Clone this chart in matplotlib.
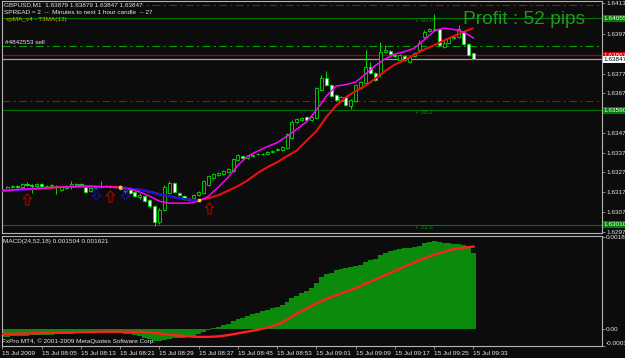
import matplotlib
matplotlib.use("Agg")
import matplotlib.pyplot as plt
import matplotlib.transforms as mtransforms
import numpy as np
from matplotlib.path import Path

W, H = 625, 358

# GBPUSD M1, one bar per minute, bar 0 = 15 Jul 2009 07:57
opens = [1.63186, 1.63191, 1.63201, 1.63206, 1.63201, 1.63216, 1.63211, 1.63206, 1.63216, 1.63206,
         1.63206, 1.63206, 1.63186, 1.63196, 1.63201, 1.63211, 1.63216, 1.63201, 1.63181, 1.63196,
         1.63201, 1.63206, 1.63206, 1.63201, 1.63206, 1.63181, 1.63186, 1.63176, 1.63150, 1.63155,
         1.63135, 1.63105, 1.63024, 1.63084, 1.63170, 1.63221, 1.63170, 1.63155, 1.63140, 1.63145,
         1.63160, 1.63170, 1.63211, 1.63246, 1.63262, 1.63267, 1.63277, 1.63282, 1.63337, 1.63358,
         1.63348, 1.63358, 1.63368, 1.63368, 1.63368, 1.63378, 1.63388, 1.63388, 1.63398, 1.63449,
         1.63530, 1.63540, 1.63555, 1.63540, 1.63550, 1.63692, 1.63752, 1.63717, 1.63666, 1.63636,
         1.63656, 1.63611, 1.63636, 1.63702, 1.63727, 1.63808, 1.63778, 1.63773, 1.63884, 1.63889,
         1.63869, 1.63843, 1.63864, 1.63833, 1.63864, 1.63894, 1.63958, 1.63990, 1.63995, 1.64000,
         1.63909, 1.63929, 1.63955, 1.63960, 1.63987, 1.63924, 1.63879]
highs = [1.63196, 1.63206, 1.63211, 1.63211, 1.63221, 1.63226, 1.63216, 1.63221, 1.63221, 1.63211,
         1.63216, 1.63211, 1.63206, 1.63211, 1.63231, 1.63221, 1.63221, 1.63206, 1.63201, 1.63206,
         1.63231, 1.63211, 1.63211, 1.63211, 1.63211, 1.63196, 1.63191, 1.63181, 1.63170, 1.63160,
         1.63140, 1.63110, 1.63095, 1.63211, 1.63231, 1.63226, 1.63176, 1.63160, 1.63145, 1.63165,
         1.63181, 1.63236, 1.63262, 1.63272, 1.63277, 1.63287, 1.63297, 1.63347, 1.63368, 1.63363,
         1.63363, 1.63368, 1.63373, 1.63373, 1.63383, 1.63388, 1.63398, 1.63408, 1.63474, 1.63540,
         1.63550, 1.63555, 1.63560, 1.63560, 1.63707, 1.63767, 1.63788, 1.63722, 1.63671, 1.63661,
         1.63661, 1.63646, 1.63722, 1.63737, 1.63894, 1.63835, 1.63783, 1.63934, 1.63919, 1.63894,
         1.63874, 1.63874, 1.63869, 1.63864, 1.63884, 1.63945, 1.63995, 1.64005, 1.64076, 1.64005,
         1.63939, 1.63960, 1.63965, 1.64021, 1.63995, 1.63929, 1.63879]
lows = [1.63176, 1.63186, 1.63196, 1.63196, 1.63196, 1.63206, 1.63170, 1.63201, 1.63201, 1.63201,
        1.63201, 1.63165, 1.63181, 1.63191, 1.63191, 1.63206, 1.63206, 1.63170, 1.63176, 1.63191,
        1.63196, 1.63201, 1.63196, 1.63196, 1.63186, 1.63170, 1.63165, 1.63150, 1.63140, 1.63125,
        1.63095, 1.63004, 1.63014, 1.63079, 1.63165, 1.63170, 1.63155, 1.63135, 1.63130, 1.63140,
        1.63155, 1.63165, 1.63206, 1.63241, 1.63257, 1.63262, 1.63272, 1.63277, 1.63332, 1.63343,
        1.63343, 1.63353, 1.63363, 1.63363, 1.63363, 1.63373, 1.63383, 1.63383, 1.63393, 1.63444,
        1.63525, 1.63535, 1.63535, 1.63535, 1.63545, 1.63687, 1.63712, 1.63656, 1.63636, 1.63631,
        1.63611, 1.63596, 1.63631, 1.63697, 1.63722, 1.63773, 1.63737, 1.63757, 1.63879, 1.63869,
        1.63859, 1.63838, 1.63838, 1.63828, 1.63859, 1.63889, 1.63953, 1.63985, 1.63990, 1.63914,
        1.63904, 1.63924, 1.63950, 1.63955, 1.63919, 1.63864, 1.63847]
closes = [1.63191, 1.63201, 1.63206, 1.63201, 1.63216, 1.63211, 1.63206, 1.63216, 1.63206, 1.63206,
          1.63211, 1.63201, 1.63201, 1.63206, 1.63216, 1.63216, 1.63211, 1.63176, 1.63196, 1.63201,
          1.63206, 1.63206, 1.63201, 1.63206, 1.63191, 1.63191, 1.63170, 1.63155, 1.63160, 1.63130,
          1.63105, 1.63024, 1.63084, 1.63201, 1.63221, 1.63176, 1.63160, 1.63140, 1.63135, 1.63160,
          1.63176, 1.63231, 1.63257, 1.63267, 1.63272, 1.63282, 1.63292, 1.63342, 1.63363, 1.63348,
          1.63358, 1.63363, 1.63368, 1.63368, 1.63378, 1.63383, 1.63393, 1.63403, 1.63469, 1.63530,
          1.63545, 1.63550, 1.63540, 1.63555, 1.63702, 1.63752, 1.63717, 1.63661, 1.63641, 1.63656,
          1.63616, 1.63641, 1.63717, 1.63732, 1.63808, 1.63778, 1.63742, 1.63884, 1.63894, 1.63874,
          1.63864, 1.63869, 1.63843, 1.63859, 1.63879, 1.63929, 1.63987, 1.64000, 1.64000, 1.63919,
          1.63929, 1.63955, 1.63960, 1.63998, 1.63924, 1.63869, 1.63847]

# indicator lines read every second bar
line_bars = list(range(0, 97, 2))
t3ma_fast = [1.63181, 1.63186, 1.63191, 1.63193, 1.63196, 1.63198, 1.63201, 1.63203, 1.63206, 1.63206,
             1.63203, 1.63201, 1.63198, 1.63191, 1.63176, 1.63155, 1.63130, 1.63120, 1.63120, 1.63120,
             1.63130, 1.63155, 1.63201, 1.63251, 1.63312, 1.63358, 1.63383, 1.63406, 1.63426, 1.63459,
             1.63494, 1.63532, 1.63590, 1.63661, 1.63712, 1.63719, 1.63732, 1.63773, 1.63816, 1.63849,
             1.63874, 1.63886, 1.63904, 1.63947, 1.63990, 1.64005, 1.63998, 1.63985, 1.63955]
xpma_slow = [1.63181, 1.63186, 1.63188, 1.63191, 1.63196, 1.63198, 1.63201, 1.63202, 1.63203, 1.63203,
             1.63203, 1.63203, 1.63201, 1.63193, 1.63188, 1.63178, 1.63165, 1.63155, 1.63145, 1.63138,
             1.63135, 1.63145, 1.63160, 1.63183, 1.63206, 1.63236, 1.63272, 1.63302, 1.63327, 1.63358,
             1.63386, 1.63436, 1.63484, 1.63555, 1.63613, 1.63656, 1.63687, 1.63714, 1.63750, 1.63788,
             1.63821, 1.63843, 1.63871, 1.63897, 1.63919, 1.63942, 1.63965, 1.63985, 1.64005]
slow_down_spans = [(0, 6), (24, 40)]  # bar ranges where the slow line is drawn blue
slow_turn_bars = [24, 40]

arrow_up_bars = [5, 22, 42]
arrow_up_prices = [1.63140, 1.63155, 1.63095]
arrow_down_bars = [19, 25]
arrow_down_prices = [1.63168, 1.63165]

# order / quote / fibo levels
bid = 1.63847
ask = 1.63867
order_open = 1.63914
stop_loss = 1.64122
take_profit = 1.63636
fibo_levels = [1.64055, 1.63590, 1.63010]
fibo_labels = ["+ 50.0", "+ 38.2", "+ 23.6"]

# scale labels that are not hidden under the price boxes
price_ticks = [1.62975, 1.63075, 1.63175, 1.63275, 1.63375, 1.63475,
               1.63675, 1.63775, 1.63975, 1.64130]

# MACD(24,52,18), every bar
macd_hist = [-0.00016, -0.00016, -0.00015, -0.00015, -0.00014, -0.00014, -0.00013, -0.00013, -0.00013, -0.00012,
             -0.00012, -0.00011, -0.00011, -0.00010, -0.00010, -0.00009, -0.00008, -0.00008, -0.00008, -0.00007,
             -0.00007, -0.00007, -0.00007, -0.00008, -0.00009, -0.00010, -0.00011, -0.00013, -0.00015, -0.00018,
             -0.00021, -0.00024, -0.00025, -0.00022, -0.00020, -0.00019, -0.00018, -0.00018, -0.00016, -0.00014,
             -0.00011, -0.00007, -0.00003, 0.00001, 0.00004, 0.00007, 0.00010, 0.00015, 0.00019, 0.00022,
             0.00026, 0.00029, 0.00032, 0.00035, 0.00038, 0.00040, 0.00043, 0.00046, 0.00052, 0.00060,
             0.00065, 0.00070, 0.00075, 0.00080, 0.00090, 0.00103, 0.00108, 0.00110, 0.00115, 0.00118,
             0.00120, 0.00121, 0.00123, 0.00125, 0.00132, 0.00135, 0.00137, 0.00145, 0.00150, 0.00153,
             0.00156, 0.00157, 0.00159, 0.00160, 0.00161, 0.00164, 0.00169, 0.00172, 0.00173, 0.00172,
             0.00170, 0.00169, 0.00168, 0.00167, 0.00165, 0.00160, 0.001504]
macd_signal = [-0.000100, -0.000100, -0.000095, -0.000090, -0.000085, -0.000080, -0.000078, -0.000072, -0.000068, -0.000064,
               -0.000060, -0.000058, -0.000058, -0.000060, -0.000062, -0.000075, -0.000095, -0.000115, -0.000135, -0.000150,
               -0.000160, -0.000160, -0.000150, -0.000125, -0.000090, -0.000055, -0.000020, 0.000025, 0.000080, 0.000180,
               0.000300, 0.000400, 0.000500, 0.000590, 0.000660, 0.000730, 0.000800, 0.000890, 0.000970, 0.001060,
               0.001140, 0.001230, 0.001310, 0.001390, 0.001460, 0.001520, 0.001570, 0.001600, 0.001621]
macd_ticks = [0.00181, 0.0, -0.00034]
macd_tick_labels = ["0.00181", "0.00", "-0.00034"]

time_tick_bars = [0, 8, 16, 24, 32, 40, 48, 56, 64, 72, 80, 88, 96]
time_tick_labels = ["15 Jul 2009", "15 Jul 08:05", "15 Jul 08:13", "15 Jul 08:21", "15 Jul 08:29",
                    "15 Jul 08:37", "15 Jul 08:45", "15 Jul 08:53", "15 Jul 09:01", "15 Jul 09:09",
                    "15 Jul 09:17", "15 Jul 09:25", "15 Jul 09:33"]

BG = "#0c0c0c"
FRAME = "#b4b4b4"
CANDLE = "#00e000"
TXT = "#e6e6e6"
FONT = ["Liberation Sans", "DejaVu Sans"]
SMALL = 4.6

plt.rcParams["font.family"] = FONT


def fx(px):
    return px / W


def fy(py):
    return 1 - py / H


fig = plt.figure(figsize=(W / 100, H / 100), dpi=100, facecolor=BG)
ax = fig.add_axes([fx(2), fy(233), 600 / W, 232 / H], facecolor=BG)
ax2 = fig.add_axes([fx(2), fy(346), 600 / W, 110 / H], facecolor=BG)

for a in (ax, ax2):
    for s in a.spines.values():
        s.set_color(FRAME)
        s.set_linewidth(0.8)
    a.set_xlim(-0.1, 122.2)
    a.yaxis.tick_right()
    a.tick_params(axis="y", length=2, width=0.5, color=FRAME, pad=1,
                  labelsize=SMALL, labelcolor=TXT)

ax.set_ylim(1.62969, 1.64142)
ax.set_xticks([])
ax.set_yticks(price_ticks)
ax.set_yticklabels([f"{p:.5f}" for p in price_ticks])

# --- horizontal levels
dashdot = (0, (7, 3, 2, 3))
ax.axhline(stop_loss, color="#c00000", lw=0.8, ls=dashdot, zorder=1)
ax.axhline(take_profit, color="#c00000", lw=0.8, ls=dashdot, zorder=1)
ax.axhline(order_open, color="#00a000", lw=0.8, ls=dashdot, zorder=1)
ytr = mtransforms.blended_transform_factory(ax.transAxes, ax.transData)
for lvl, lab in zip(fibo_levels, fibo_labels):
    ax.axhline(lvl, color="#007800", lw=0.8, zorder=1)
    ax.text(0.688, lvl, lab, transform=ytr, color="#0a8a0a", fontsize=SMALL, va="top", ha="left")
ax.axhline(ask, color="#b00000", lw=0.9, zorder=1)
ax.axhline(bid, color="#a0a0a0", lw=0.9, zorder=1)

# --- candles
x = np.arange(len(closes))
o = np.array(opens)
c = np.array(closes)
up = c >= o
body_lo = np.minimum(o, c)
body_h = np.maximum(np.abs(c - o), 0.000015)
ax.vlines(x, lows, highs, color=CANDLE, lw=0.7, zorder=2)
ax.bar(x[up], body_h[up], bottom=body_lo[up], width=0.62, color=BG,
       edgecolor=CANDLE, linewidth=0.6, zorder=3)
ax.bar(x[~up], body_h[~up], bottom=body_lo[~up], width=0.62, color="white",
       edgecolor=CANDLE, linewidth=0.6, zorder=3)

# --- moving averages
lb = np.array(line_bars)
slow = np.array(xpma_slow)
ax.plot(lb, slow, color="#e81010", lw=1.5, zorder=4, solid_capstyle="butt")
for a0, a1 in slow_down_spans:
    m = (lb >= a0) & (lb <= a1)
    ax.plot(lb[m], slow[m], color="#1414e6", lw=1.5, zorder=4.1)
ax.plot(lb, t3ma_fast, color="#ff00ff", lw=1.1, zorder=5)
turn = np.isin(lb, slow_turn_bars)
ax.plot(lb[turn], slow[turn], ls="none", marker="s", ms=1.6, color="#f0e000", zorder=6)

# --- signal arrows
up_path = Path([(0, 1), (0.75, 0.15), (0.3, 0.15), (0.3, -1), (-0.3, -1), (-0.3, 0.15),
                (-0.75, 0.15), (0, 1)], closed=True)
down_path = Path([(px, -py) for px, py in up_path.vertices], closed=True)
ax.plot(arrow_up_bars, arrow_up_prices, ls="none", marker=up_path, ms=8,
        mfc="none", mec="#b40000", mew=0.8, zorder=6)
ax.plot(arrow_down_bars, arrow_down_prices, ls="none", marker=down_path, ms=8,
        mfc="none", mec="#1010c0", mew=0.8, zorder=6)

# --- price boxes on the right scale
boxes = [(lvl, "#008000", "white") for lvl in fibo_levels] + [(ask, "#d00000", "white"),
                                                              (bid, "white", "black")]
for lvl, fc, tc in boxes:
    ax.text(1.003, lvl, f"{lvl:.5f}", transform=ytr, fontsize=SMALL, color=tc,
            va="center", ha="left", clip_on=False, zorder=20,
            bbox=dict(boxstyle="square,pad=0.15", fc=fc, ec="none"))

# --- MACD pane
ax2.set_ylim(-0.000334, 0.00183)
ax2.bar(x, macd_hist, width=1.0, color="#0b8a0b", zorder=2)
ax2.plot(lb, macd_signal, color="#ff2020", lw=1.7, zorder=3)
ax2.set_yticks(macd_ticks)
ax2.set_yticklabels(macd_tick_labels)
ax2.get_yticklabels()[-1].set_va("bottom")
ax2.set_xticks(time_tick_bars)
ax2.set_xticklabels(time_tick_labels, ha="left")
ax2.tick_params(axis="x", length=2.5, width=0.5, color=FRAME, pad=0.8,
                labelsize=SMALL, labelcolor=TXT)

# --- chart texts
title = f"GBPUSD,M1  {opens[-1]:.5f} {highs[-1]:.5f} {lows[-1]:.5f} {closes[-1]:.5f}"
fig.text(fx(4), fy(5), title, fontsize=SMALL, color=TXT, va="center",
         bbox=dict(boxstyle="square,pad=0", fc=BG, ec="none"))
fig.text(fx(4), fy(12), "SPREAD = 2  --  Minutes to next 1 hour candle  -- 27",
         fontsize=SMALL, color=TXT, va="center")
fig.text(fx(6), fy(19), "xpMA_v4 - T3MA(13)", fontsize=SMALL, color="#c8aa00", va="center")
fig.text(fx(5), fy(42), "#4842553 sell", fontsize=SMALL, color=TXT, va="center")
fig.text(fx(463), fy(20), "Profit : 52 pips", fontsize=13.8, color="#1e9b1e", va="center")
fig.text(fx(3), fy(241), f"MACD(24,52,18) {macd_hist[-1]:.6f} {macd_signal[-1]:.6f}",
         fontsize=SMALL, color=TXT, va="center")
fig.text(fx(2), fy(341), "FxPro MT4, \u00a9 2001-2009 MetaQuotes Software Corp.",
         fontsize=SMALL, color=TXT, va="center")

fig.savefig("out.png", dpi=100, facecolor=BG)
